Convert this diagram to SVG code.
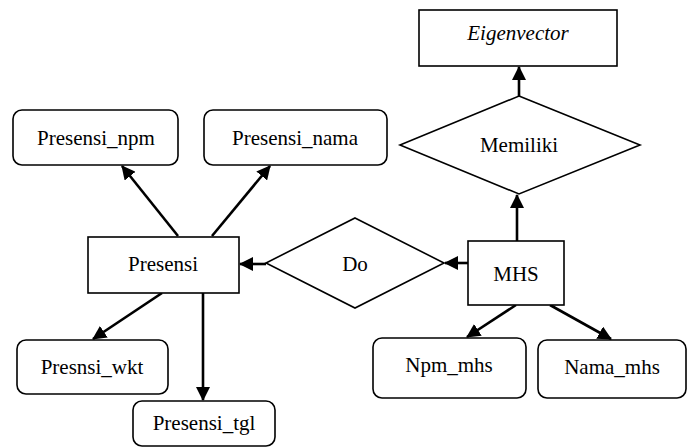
<svg xmlns="http://www.w3.org/2000/svg" width="692" height="448" viewBox="0 0 692 448">
  <style>
    .box { fill: #fff; stroke: #000; stroke-width: 1.6; }
    .lbl { font-family: 'Liberation Serif', 'Times New Roman', Times, 'DejaVu Serif', serif; font-size: 21px; fill: #000; text-anchor: middle; }
    .edge { stroke: #000; stroke-width: 2.6; fill: none; marker-end: url(#arrow); }
  </style>
  <defs>
    <marker id="arrow" markerUnits="userSpaceOnUse" markerWidth="14" markerHeight="14" viewBox="0 0 14 14" refX="13" refY="7" orient="auto">
      <path d="M0,0 L14,7 L0,14 Z" fill="#000"/>
    </marker>
  </defs>
  <rect width="692" height="448" fill="#fff"/>

  <g id="connectors">
    <line class="edge" x1="519" y1="96" x2="519" y2="67"/>
    <line class="edge" x1="517" y1="241" x2="517" y2="195"/>
    <line class="edge" x1="468" y1="263" x2="445" y2="263"/>
    <line class="edge" x1="266" y1="264" x2="240" y2="264"/>
    <line class="edge" x1="178" y1="236" x2="122" y2="166"/>
    <line class="edge" x1="212" y1="236" x2="270" y2="166"/>
    <line class="edge" x1="162" y1="293" x2="93" y2="339"/>
    <line class="edge" x1="203" y1="293" x2="203" y2="400"/>
    <line class="edge" x1="516" y1="305" x2="467" y2="337"/>
    <line class="edge" x1="550" y1="305" x2="611" y2="339"/>
  </g>

  <g id="eigenvector">
    <rect class="box" x="419" y="10" width="198" height="56"/>
    <text class="lbl" x="518" y="40" font-family="Liberation Serif, serif" font-style="italic">Eigenvector</text>
  </g>
  <g id="memiliki">
    <polygon class="box" points="519,96 640,145 519,194 400,145"/>
    <text class="lbl" x="519" y="152" font-family="Liberation Serif, serif">Memiliki</text>
  </g>
  <g id="presensi-npm">
    <rect class="box" x="13" y="110" width="165" height="55" rx="9"/>
    <text class="lbl" x="96" y="145" font-family="Liberation Serif, serif">Presensi_npm</text>
  </g>
  <g id="presensi-nama">
    <rect class="box" x="204" y="110" width="183" height="55" rx="9"/>
    <text class="lbl" x="295" y="145" font-family="Liberation Serif, serif">Presensi_nama</text>
  </g>
  <g id="presensi">
    <rect class="box" x="88" y="237" width="151" height="56"/>
    <text class="lbl" x="163" y="271" font-family="Liberation Serif, serif">Presensi</text>
  </g>
  <g id="do">
    <polygon class="box" points="355,218 444,263 355,308 266,263"/>
    <text class="lbl" x="355" y="271" font-family="Liberation Serif, serif">Do</text>
  </g>
  <g id="mhs">
    <rect class="box" x="468" y="241" width="96" height="64"/>
    <text class="lbl" x="516" y="281" font-family="Liberation Serif, serif">MHS</text>
  </g>
  <g id="npm-mhs">
    <rect class="box" x="373" y="338" width="153" height="60" rx="9"/>
    <text class="lbl" x="449" y="372" font-family="Liberation Serif, serif">Npm_mhs</text>
  </g>
  <g id="nama-mhs">
    <rect class="box" x="538" y="340" width="148" height="58" rx="9"/>
    <text class="lbl" x="612" y="374" font-family="Liberation Serif, serif">Nama_mhs</text>
  </g>
  <g id="presnsi-wkt">
    <rect class="box" x="17" y="340" width="151" height="54" rx="9"/>
    <text class="lbl" x="92" y="374" font-family="Liberation Serif, serif">Presnsi_wkt</text>
  </g>
  <g id="presensi-tgl">
    <rect class="box" x="133" y="401" width="142" height="45" rx="9"/>
    <text class="lbl" x="204" y="430" font-family="Liberation Serif, serif" font-size="18">Presensi_tgl</text>
  </g>
</svg>
